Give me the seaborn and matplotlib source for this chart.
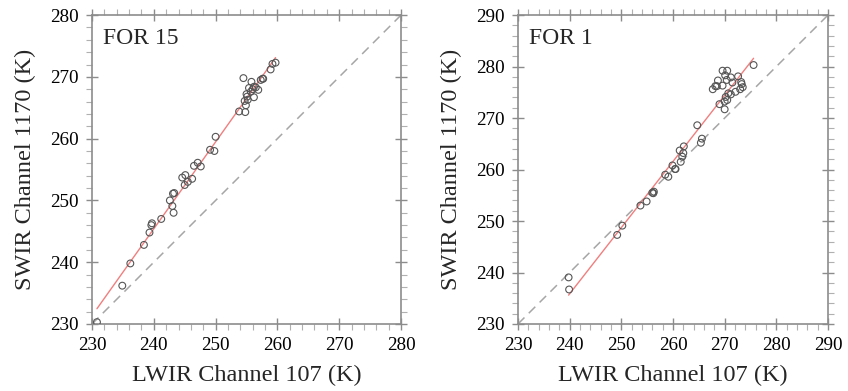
import numpy as np
import pandas as pd
import matplotlib
matplotlib.use("Agg")
import matplotlib.pyplot as plt
import seaborn as sns
from matplotlib.ticker import MultipleLocator

# ---- data ----
for15_lwir = [230.8, 234.9, 236.2, 238.4, 239.3, 239.6, 239.7, 241.2, 242.6, 243.0,
              243.2, 243.1, 243.3, 244.6, 245.1, 245.0, 245.5, 246.2, 246.5, 247.1,
              247.6, 249.1, 249.8, 250.0, 253.8, 254.5, 254.8, 254.7, 254.9, 255.0,
              255.1, 255.8, 255.7, 256.0, 256.2, 256.2, 256.5, 256.9, 257.3, 257.6,
              257.7, 258.9, 259.2, 259.7, 255.4, 255.2]
for15_swir = [230.3, 236.2, 239.8, 242.8, 244.8, 246.0, 246.3, 247.0, 250.0, 249.1,
              248.0, 251.1, 251.2, 253.7, 254.1, 252.5, 253.0, 253.5, 255.6, 256.1,
              255.5, 258.2, 258.0, 260.3, 264.4, 269.8, 264.3, 266.1, 265.4, 267.2,
              266.8, 269.2, 267.6, 268.0, 268.4, 266.7, 268.3, 267.9, 269.5, 269.7,
              269.7, 271.2, 272.1, 272.3, 268.2, 266.3]

for1_lwir = [239.8, 239.9, 249.2, 250.2, 253.7, 254.9, 256.0, 256.2, 256.3, 258.5,
             259.1, 259.9, 260.4, 260.5, 261.3, 261.5, 261.8, 262.0, 262.1, 264.7,
             265.4, 265.6, 267.7, 268.2, 268.5, 268.7, 269.0, 269.6, 269.6, 270.0,
             270.0, 270.1, 270.2, 270.4, 270.5, 270.5, 270.7, 271.2, 271.2, 271.5,
             272.1, 272.6, 273.0, 273.2, 273.3, 273.5, 275.6]
for1_swir = [239.05, 236.7, 247.3, 249.1, 253.0, 253.8, 255.5, 255.4, 255.7, 259.0,
             258.6, 260.8, 260.1, 260.1, 263.7, 261.5, 262.5, 263.2, 264.5, 268.6,
             265.2, 266.0, 275.6, 276.2, 276.2, 277.3, 272.7, 276.3, 279.2, 271.7,
             273.2, 278.3, 274.1, 277.4, 279.2, 273.5, 274.8, 274.6, 277.9, 276.9,
             275.1, 278.1, 275.6, 277.0, 276.6, 276.0, 280.3]

panels = [
    dict(title="FOR 15", x=for15_lwir, y=for15_swir, lim=(230, 280)),
    dict(title="FOR 1", x=for1_lwir, y=for1_swir, lim=(230, 290)),
]

xlabel = "LWIR Channel 107 (K)"
ylabel = "SWIR Channel 1170 (K)"

sns.set_theme(style="white")
plt.rcParams["font.family"] = ["Liberation Serif", "DejaVu Serif"]

fig = plt.figure(figsize=(8.48, 3.91), dpi=100)
axes_rects = [[0.1085, 0.1714, 0.3644, 0.790], [0.6108, 0.1714, 0.3656, 0.790]]

axis_gray = "#8c8c8c"
for rect, p in zip(axes_rects, panels):
    ax = fig.add_axes(rect)
    df = pd.DataFrame({"lwir": p["x"], "swir": p["y"]})
    lo, hi = p["lim"]
    ax.plot([lo, hi], [lo, hi], ls=(0, (6, 4)), color="#a6a6a6", lw=1.1, zorder=1)
    sns.regplot(data=df, x="lwir", y="swir", ax=ax, scatter=False, ci=None,
                truncate=True, line_kws=dict(color="#f07f7f", lw=1.0, zorder=2))
    sns.scatterplot(data=df, x="lwir", y="swir", ax=ax, marker="o", s=24,
                    facecolor="none", edgecolor="#555555", linewidth=0.8, zorder=3)
    ax.set_xlim(lo, hi)
    ax.set_ylim(lo, hi)
    ax.xaxis.set_major_locator(MultipleLocator(10))
    ax.yaxis.set_major_locator(MultipleLocator(10))
    ax.xaxis.set_minor_locator(MultipleLocator(2))
    ax.yaxis.set_minor_locator(MultipleLocator(2))
    ax.tick_params(which="major", direction="inout", length=9, width=1.0,
                   color=axis_gray, labelsize=13.8, labelcolor="black",
                   top=True, right=True, bottom=True, left=True, pad=5)
    ax.tick_params(which="minor", direction="out", length=4, width=0.8,
                   color="#b0b0b0", top=True, right=True, bottom=True, left=True)
    for s in ax.spines.values():
        s.set_color(axis_gray)
        s.set_linewidth(1.2)
    ax.set_xlabel(xlabel, fontsize=17.5, labelpad=8)
    ax.set_ylabel(ylabel, fontsize=17.5, labelpad=10)
    ax.text(0.037, 0.905, p["title"], transform=ax.transAxes, fontsize=17,
            ha="left", va="baseline")

fig.savefig("out.png", dpi=100)
